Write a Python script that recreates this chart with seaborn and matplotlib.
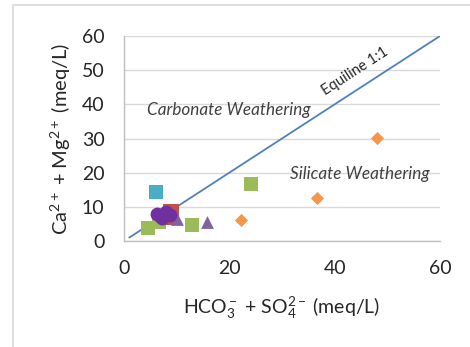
import matplotlib
matplotlib.use("Agg")
import matplotlib.pyplot as plt
import seaborn as sns
import pandas as pd
from matplotlib.patches import Rectangle

# Data
orange_x = [48.1, 36.6, 22.2]
orange_y = [30.1, 12.6, 6.1]
green_x = [24.1, 13.0, 4.6, 6.6, 7.6]
green_y = [16.7, 4.7, 3.8, 5.6, 6.6]
cyan_x = [6.1]
cyan_y = [14.3]
red_x = [9.0, 8.4]
red_y = [8.5, 6.9]
purple_tri_x = [15.7, 10.0]
purple_tri_y = [5.6, 6.4]
purple_circ_x = [6.3, 7.9, 7.3, 8.8, 6.9]
purple_circ_y = [7.9, 8.5, 6.7, 7.6, 7.2]
equiline_x = [1, 60]
equiline_y = [1, 60]
ticks = [0, 10, 20, 30, 40, 50, 60]
xticks = [0, 20, 40, 60]

sns.set_theme(style="white")
plt.rcParams['font.family'] = ['Lato', 'DejaVu Sans']
plt.rcParams['mathtext.fontset'] = 'custom'
plt.rcParams['mathtext.rm'] = 'Lato'
plt.rcParams['mathtext.it'] = 'Lato:italic'

fig = plt.figure(figsize=(4.70, 3.47), dpi=100)
fig.patches.append(Rectangle((13/470, -0.1), 1.2, 1.1 - 5/347, transform=fig.transFigure,
                             fill=False, edgecolor='#D9D9D9', linewidth=1.2, zorder=0))
ax = fig.add_axes([124/470, 1 - 241/347, (440-124)/470, (241-36)/347])

ax.plot(equiline_x, equiline_y, color='#4F81BD', lw=1.3, zorder=1)

groups = [
    (green_x, green_y, 's', '#9BBB59', 115),
    (orange_x, orange_y, 'D', '#F79646', 45),
    (cyan_x, cyan_y, 's', '#4BACC6', 100),
    (red_x, red_y, 's', '#C0504D', 120),
    (purple_tri_x, purple_tri_y, '^', '#8064A2', 85),
    (purple_circ_x, purple_circ_y, 'o', '#7030A0', 100),
]
for gx, gy, m, c, s in groups:
    df = pd.DataFrame({'x': gx, 'y': gy})
    sns.scatterplot(data=df, x='x', y='y', marker=m, color=c, s=s, linewidth=0, ax=ax, zorder=2)

ax.set_xlim(0, 60)
ax.set_ylim(0, 60)
ax.set_yticks(ticks)
ax.set_xticks(xticks)
ax.yaxis.grid(True, color='#D9D9D9', lw=1.0)
ax.xaxis.grid(False)
ax.set_axisbelow(True)
for sp in ['top', 'right']:
    ax.spines[sp].set_visible(False)
for sp in ['left', 'bottom']:
    ax.spines[sp].set_color('#BFBFBF')
    ax.spines[sp].set_linewidth(1.0)
ax.tick_params(axis='both', length=0, labelsize=14, colors='#262626', pad=14)

ax.set_xlabel(r'HCO$_3^-$ + SO$_4^{2-}$ (meq/L)', fontsize=14, color='#262626', labelpad=12)
ax.set_ylabel(r'Ca$^{2+}$ + Mg$^{2+}$ (meq/L)', fontsize=14.5, color='#262626', labelpad=6)

ax.text(43.9, 49.6, 'Equiline 1:1', rotation=33, ha='center', va='center', fontsize=10.5, color='#262626')
ax.text(19.9, 38.3, 'Carbonate Weathering', style='italic', ha='center', va='center', fontsize=12.3, color='#404040')
ax.text(44.8, 19.6, 'Silicate Weathering', style='italic', ha='center', va='center', fontsize=12.3, color='#404040')

fig.savefig('out.png', dpi=100)
